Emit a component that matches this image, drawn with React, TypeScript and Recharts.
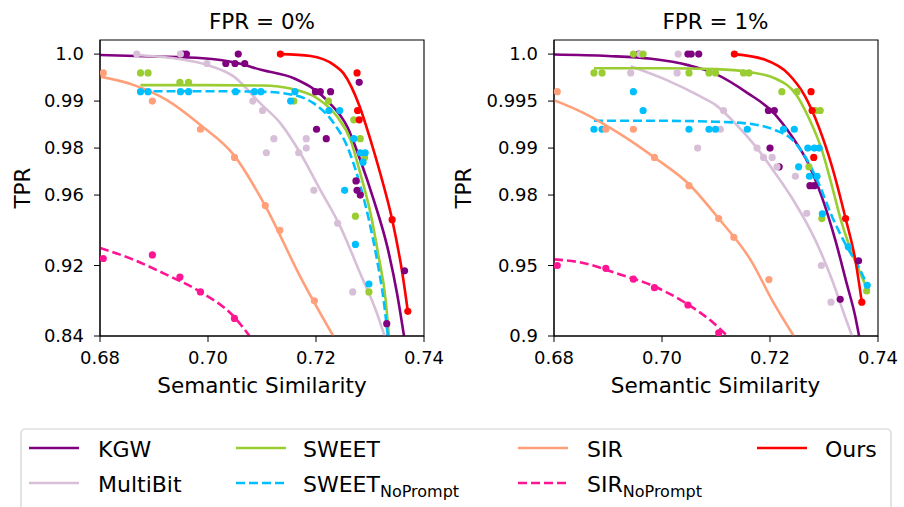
import { ComposedChart, Line, Scatter, XAxis, YAxis, ReferenceArea } from 'recharts';

// ---- axes ----
const X_TICKS = [0.68, 0.7, 0.72, 0.74];
const Y_TICKS_0 = [1.0, 0.99, 0.98, 0.96, 0.92, 0.84];
const Y_TICKS_1 = [1.0, 0.995, 0.99, 0.98, 0.95, 0.9];
const Y_LABELS_0 = ['1.0', '0.99', '0.98', '0.96', '0.92', '0.84'];
const Y_LABELS_1 = ['1.0', '0.995', '0.99', '0.98', '0.95', '0.9'];
// the TPR axis is stretched by hand: where each tick sits, top to bottom
const TICK_POS = [0, 1, 2, 3, 4.5, 6];

// ---- FPR = 0% : [semantic similarity, TPR] ----
const KGW_PTS_0 = [[0.6954, 1.0], [0.696, 1.0], [0.7056, 1.0], [0.7033, 0.998], [0.705, 0.998], [0.7068, 0.998], [0.7199, 0.992], [0.7208, 0.992], [0.7227, 0.992], [0.728, 0.994], [0.7201, 0.984], [0.7219, 0.982], [0.7274, 0.966], [0.7276, 0.962], [0.7282, 0.96], [0.7364, 0.914], [0.7331, 0.854]];
const KGW_FIT_0 = [[0.68, 0.9998], [0.69, 0.9995], [0.699, 0.9991], [0.705, 0.9982], [0.71, 0.9966], [0.716, 0.9948], [0.722, 0.9902], [0.7258, 0.9845], [0.7282, 0.9749], [0.7307, 0.9571], [0.7332, 0.9307], [0.735, 0.8885], [0.7363, 0.84]];
const MB_PTS_0 = [[0.6868, 1.0], [0.6949, 1.0], [0.6998, 0.998], [0.7083, 0.99], [0.7101, 0.988], [0.7122, 0.982], [0.7108, 0.978], [0.7182, 0.982], [0.7182, 0.98], [0.7168, 0.978], [0.7196, 0.962], [0.724, 0.944], [0.7268, 0.89]];
const MB_FIT_0 = [[0.6868, 0.9998], [0.6949, 0.9989], [0.6998, 0.9977], [0.7048, 0.9952], [0.7097, 0.9895], [0.7134, 0.9853], [0.7171, 0.9778], [0.7208, 0.9622], [0.7245, 0.9421], [0.7282, 0.9109], [0.7313, 0.8656], [0.7327, 0.84]];
const SWEET_PTS_0 = [[0.6875, 0.996], [0.6889, 0.996], [0.6948, 0.994], [0.6964, 0.994], [0.7159, 0.99], [0.7223, 0.99], [0.727, 0.986], [0.7282, 0.982], [0.729, 0.976], [0.7273, 0.948], [0.7298, 0.89]];
const SWEET_FIT_0 = [[0.6875, 0.9934], [0.7, 0.9934], [0.71, 0.9933], [0.7159, 0.9925], [0.7202, 0.9906], [0.7239, 0.9867], [0.7264, 0.9817], [0.7282, 0.9692], [0.7301, 0.9496], [0.7316, 0.9251], [0.7329, 0.8811], [0.7335, 0.84]];
const SWNP_PTS_0 = [[0.6875, 0.992], [0.6889, 0.992], [0.6949, 0.992], [0.6964, 0.992], [0.7051, 0.992], [0.7086, 0.992], [0.7098, 0.992], [0.7153, 0.99], [0.7161, 0.992], [0.7224, 0.988], [0.7244, 0.988], [0.727, 0.982], [0.7282, 0.978], [0.7291, 0.978], [0.7287, 0.974], [0.7253, 0.962], [0.7273, 0.932], [0.7298, 0.899]];
const SWNP_FIT_0 = [[0.6875, 0.9921], [0.7, 0.9921], [0.7097, 0.992], [0.7159, 0.9913], [0.7196, 0.9895], [0.7233, 0.9853], [0.7258, 0.9803], [0.7279, 0.9664], [0.7298, 0.9459], [0.7313, 0.9232], [0.7326, 0.8773], [0.7333, 0.84]];
const SIR_PTS_0 = [[0.6806, 0.996], [0.6897, 0.99], [0.6986, 0.984], [0.7049, 0.976], [0.7106, 0.954], [0.7133, 0.94], [0.7197, 0.88]];
const SIR_FIT_0 = [[0.68, 0.9952], [0.6863, 0.9934], [0.6924, 0.9902], [0.6986, 0.9849], [0.7048, 0.977], [0.7106, 0.9539], [0.7171, 0.9072], [0.7232, 0.84]];
const SIRNP_PTS_0 = [[0.6806, 0.924], [0.6897, 0.926], [0.6948, 0.907], [0.6986, 0.89], [0.7049, 0.86]];
const SIRNP_FIT_0 = [[0.68, 0.93], [0.6863, 0.9232], [0.6924, 0.9093], [0.6986, 0.8901], [0.7048, 0.8619], [0.7077, 0.84]];
const OURS_PTS_0 = [[0.7134, 1.0], [0.7276, 0.996], [0.7277, 0.988], [0.728, 0.986], [0.7341, 0.946], [0.737, 0.868]];
const OURS_FIT_0 = [[0.7134, 1.0], [0.719, 0.9996], [0.7233, 0.9977], [0.7251, 0.9959], [0.7281, 0.9888], [0.7301, 0.9817], [0.7319, 0.9692], [0.7341, 0.9461], [0.736, 0.9109], [0.737, 0.8683]];

// ---- FPR = 1% ----
const KGW_PTS_1 = [[0.6957, 1.0], [0.7048, 1.0], [0.7054, 1.0], [0.7068, 1.0], [0.7197, 0.994], [0.7208, 0.994], [0.72, 0.99], [0.7217, 0.986], [0.7274, 0.982], [0.7282, 0.982], [0.7364, 0.952], [0.733, 0.926]];
const KGW_FIT_1 = [[0.68, 0.99995], [0.69, 0.9998], [0.698, 0.9995], [0.705, 0.9988], [0.7099, 0.9979], [0.716, 0.9958], [0.7204, 0.9939], [0.7241, 0.9912], [0.7271, 0.9867], [0.7296, 0.9792], [0.7321, 0.9608], [0.7342, 0.9373], [0.7358, 0.9137], [0.7365, 0.9]];
const MB_PTS_1 = [[0.6959, 1.0], [0.703, 1.0], [0.6942, 0.998], [0.7028, 0.998], [0.7066, 0.99], [0.7108, 0.992], [0.7114, 0.994], [0.7176, 0.99], [0.7188, 0.988], [0.7204, 0.988], [0.7213, 0.986], [0.7247, 0.984], [0.7268, 0.9722], [0.7295, 0.95], [0.7313, 0.924]];
const MB_FIT_1 = [[0.6942, 0.9987], [0.701, 0.9972], [0.7071, 0.9955], [0.7099, 0.9946], [0.7136, 0.9926], [0.7173, 0.9902], [0.721, 0.9846], [0.7247, 0.9764], [0.7284, 0.9608], [0.7315, 0.9397], [0.7339, 0.9137], [0.7352, 0.9]];
const SWEET_PTS_1 = [[0.6874, 0.998], [0.6889, 0.998], [0.6947, 1.0], [0.6965, 1.0], [0.705, 0.998], [0.7087, 0.998], [0.7099, 0.998], [0.7151, 0.998], [0.7161, 0.998], [0.7222, 0.996], [0.725, 0.996], [0.7284, 0.994], [0.7293, 0.994], [0.7272, 0.986], [0.7296, 0.97], [0.7379, 0.932]];
const SWEET_FIT_1 = [[0.6874, 0.9985], [0.7, 0.9985], [0.7099, 0.9984], [0.716, 0.9981], [0.721, 0.9974], [0.7247, 0.9958], [0.7271, 0.9933], [0.7296, 0.9896], [0.7315, 0.9818], [0.7333, 0.968], [0.7352, 0.9552], [0.737, 0.942], [0.7379, 0.934]];
const SWNP_PTS_1 = [[0.6874, 0.992], [0.6889, 0.992], [0.6947, 0.996], [0.6965, 0.994], [0.705, 0.992], [0.7087, 0.992], [0.7099, 0.992], [0.7158, 0.992], [0.7225, 0.992], [0.7245, 0.992], [0.727, 0.99], [0.7282, 0.99], [0.7291, 0.99], [0.7253, 0.986], [0.7273, 0.984], [0.7287, 0.984], [0.7297, 0.972], [0.7345, 0.958], [0.738, 0.936]];
const SWNP_FIT_1 = [[0.6874, 0.9929], [0.7, 0.9929], [0.7099, 0.9928], [0.716, 0.9926], [0.721, 0.9919], [0.7241, 0.9909], [0.7265, 0.9882], [0.729, 0.9825], [0.7315, 0.9708], [0.7339, 0.9594], [0.7364, 0.949], [0.738, 0.9363]];
const SIR_PTS_1 = [[0.6806, 0.996], [0.6896, 0.992], [0.6947, 0.992], [0.6986, 0.988], [0.705, 0.982], [0.7105, 0.97], [0.7133, 0.962], [0.7198, 0.94]];
const SIR_FIT_1 = [[0.68, 0.9951], [0.6856, 0.9937], [0.6917, 0.9917], [0.6986, 0.988], [0.705, 0.9823], [0.7105, 0.97], [0.7164, 0.9524], [0.7207, 0.9233], [0.7244, 0.9]];
const SIRNP_PTS_1 = [[0.6806, 0.95], [0.6896, 0.948], [0.6947, 0.9403], [0.6986, 0.9343], [0.7048, 0.922], [0.7105, 0.9023]];
const SIRNP_FIT_1 = [[0.68, 0.9526], [0.6856, 0.951], [0.6917, 0.9443], [0.6979, 0.9363], [0.704, 0.9243], [0.7096, 0.909], [0.7121, 0.9]];
const OURS_PTS_1 = [[0.7134, 1.0], [0.7276, 0.996], [0.7278, 0.994], [0.7281, 0.988], [0.734, 0.97], [0.737, 0.924]];
const OURS_FIT_1 = [[0.7134, 1.0], [0.7191, 0.9994], [0.7234, 0.9979], [0.7265, 0.9955], [0.729, 0.9923], [0.7315, 0.986], [0.734, 0.97], [0.7358, 0.9524], [0.737, 0.924]];

const METHODS = [
  { name: 'KGW', color: '#800080', dashed: false },
  { name: 'MultiBit', color: '#d8bfd8', dashed: false },
  { name: 'SWEET', color: '#9acd32', dashed: false },
  { name: 'SWEET_NP', color: '#00bfff', dashed: true },
  { name: 'SIR', color: '#ffa07a', dashed: false },
  { name: 'SIR_NP', color: '#ff1493', dashed: true },
  { name: 'Ours', color: '#ff0000', dashed: false },
];

const PANEL_0 = [
  [KGW_PTS_0, KGW_FIT_0], [MB_PTS_0, MB_FIT_0], [SWEET_PTS_0, SWEET_FIT_0], [SWNP_PTS_0, SWNP_FIT_0],
  [SIR_PTS_0, SIR_FIT_0], [SIRNP_PTS_0, SIRNP_FIT_0], [OURS_PTS_0, OURS_FIT_0],
];
const PANEL_1 = [
  [KGW_PTS_1, KGW_FIT_1], [MB_PTS_1, MB_FIT_1], [SWEET_PTS_1, SWEET_FIT_1], [SWNP_PTS_1, SWNP_FIT_1],
  [SIR_PTS_1, SIR_FIT_1], [SIRNP_PTS_1, SIRNP_FIT_1], [OURS_PTS_1, OURS_FIT_1],
];

const FONT = '"DejaVu Sans", sans-serif';

// TPR -> stretched axis position (piecewise linear between the ticks)
function toPos(tpr: number, ticks: number[]) {
  let i = 0;
  while (i < ticks.length - 2 && tpr < ticks[i + 1]) i++;
  const t = (ticks[i] - tpr) / (ticks[i] - ticks[i + 1]);
  return -(TICK_POS[i] + t * (TICK_POS[i + 1] - TICK_POS[i]));
}

function Panel({ left, yTicks, yLabels, data }: any) {
  const conv = (arr: number[][]) => arr.map(([x, tpr]) => ({ x, y: toPos(tpr, yTicks) }));
  return (
    <div style={{ position: 'absolute', left, top: 0 }}>
      <ComposedChart width={450} height={400} margin={{ top: 40, right: 26, bottom: 0, left: 0 }} style={{ overflow: 'visible' }}>
        <XAxis
          type="number"
          dataKey="x"
          domain={[0.68, 0.74]}
          ticks={X_TICKS}
          tickFormatter={(v: number) => v.toFixed(2)}
          allowDataOverflow
          height={64}
          tickSize={6}
          tickMargin={9}
          stroke="#000"
          tick={{ fill: '#000', fontSize: 18, fontFamily: FONT }}
        />
        <YAxis
          type="number"
          dataKey="y"
          domain={[-6, 0.3]}
          ticks={TICK_POS.map((p) => -p)}
          tickFormatter={(v: number) => yLabels[TICK_POS.findIndex((p) => Math.abs(p + v) < 1e-6)]}
          allowDataOverflow
          width={100}
          tickSize={6}
          tickMargin={10}
          stroke="#000"
          tick={{ fill: '#000', fontSize: 18, fontFamily: FONT }}
        />
        {METHODS.map((m, i) => (
          <Scatter
            key={'p' + m.name}
            data={conv(data[i][0])}
            dataKey="y"
            fill={m.color}
            isAnimationActive={false}
            shape={(p: any) => <circle cx={p.cx} cy={p.cy} r={3.6} fill={m.color} />}
          />
        ))}
        {METHODS.map((m, i) => (
          <Line
            key={'l' + m.name}
            data={conv(data[i][1])}
            dataKey="y"
            type="monotone"
            stroke={m.color}
            strokeWidth={2.6}
            strokeDasharray={m.dashed ? '9 4' : undefined}
            dot={false}
            activeDot={false}
            isAnimationActive={false}
          />
        ))}
        <ReferenceArea x1={0.68} x2={0.74} y1={-6} y2={0.3} fill="none" stroke="#000" strokeWidth={1.1} ifOverflow="visible" />
      </ComposedChart>
    </div>
  );
}

const LEGEND = [
  { m: 0, col: 0, row: 0, label: 'KGW', sub: '' },
  { m: 1, col: 0, row: 1, label: 'MultiBit', sub: '' },
  { m: 2, col: 1, row: 0, label: 'SWEET', sub: '' },
  { m: 3, col: 1, row: 1, label: 'SWEET', sub: 'NoPrompt' },
  { m: 4, col: 2, row: 0, label: 'SIR', sub: '' },
  { m: 5, col: 2, row: 1, label: 'SIR', sub: 'NoPrompt' },
  { m: 6, col: 3, row: 0, label: 'Ours', sub: '' },
];
const COL_LINE_X = [29, 236, 518, 757];
const COL_TEXT_X = [98, 303, 587, 825];
const ROW_Y = [448, 483];

export default function App() {
  return (
    <div style={{ position: 'absolute', left: 0, top: 0, width: 904, height: 507, overflow: 'hidden', background: '#fff', fontFamily: FONT }}>
      <Panel left={0} yTicks={Y_TICKS_0} yLabels={Y_LABELS_0} data={PANEL_0} />
      <Panel left={453.5} yTicks={Y_TICKS_1} yLabels={Y_LABELS_1} data={PANEL_1} />
      <svg width={904} height={507} style={{ position: 'absolute', left: 0, top: 0, pointerEvents: 'none' }} fontFamily={FONT}>
        <text x={262} y={29} textAnchor="middle" fontSize={21.5}>FPR = 0%</text>
        <text x={715.5} y={29} textAnchor="middle" fontSize={21.5}>FPR = 1%</text>
        <text x={262} y={393} textAnchor="middle" fontSize={21.5}>Semantic Similarity</text>
        <text x={715.5} y={393} textAnchor="middle" fontSize={21.5}>Semantic Similarity</text>
        <text x={30} y={188} textAnchor="middle" fontSize={21.5} transform="rotate(-90 30 188)">TPR</text>
        <text x={471} y={188} textAnchor="middle" fontSize={21.5} transform="rotate(-90 471 188)">TPR</text>
        <rect x={21} y={429} width={870} height={100} rx={4} fill="#fff" stroke="#d0d0d0" strokeWidth={1.2} />
        {LEGEND.map((e) => {
          const m = METHODS[e.m];
          const y = ROW_Y[e.row];
          return (
            <g key={e.m}>
              <line x1={COL_LINE_X[e.col]} x2={COL_LINE_X[e.col] + 50} y1={y} y2={y} stroke={m.color} strokeWidth={2.6} strokeDasharray={m.dashed ? '9 4' : undefined} />
              <text x={COL_TEXT_X[e.col]} y={y + 8.5} fontSize={22}>
                {e.label}
                {e.sub && <tspan fontSize={16} dy={5}>{e.sub}</tspan>}
              </text>
            </g>
          );
        })}
      </svg>
    </div>
  );
}
